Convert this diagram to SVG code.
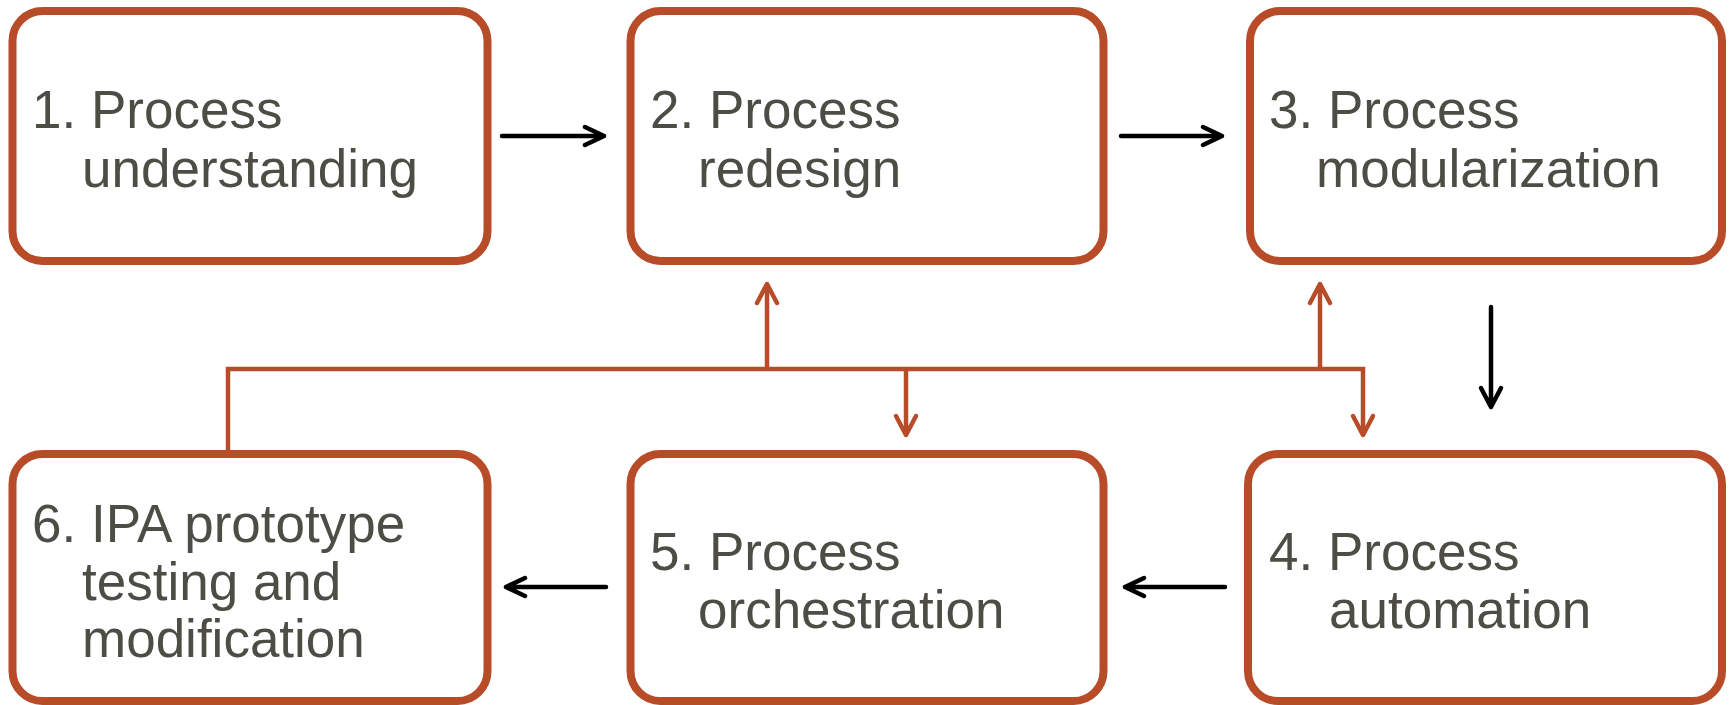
<svg xmlns="http://www.w3.org/2000/svg" width="1731" height="705" viewBox="0 0 1731 705">
<defs>
<style>
.box{fill:#fff;stroke:#B84C29;stroke-width:8}
.t{font-family:"Liberation Sans",Arial,sans-serif;font-size:53px;fill:#4E4D45}
.blk{stroke:#000;stroke-width:4.5;fill:none;stroke-linecap:round;stroke-linejoin:round}
.org{stroke:#B84C29;stroke-width:4.5;fill:none;stroke-linejoin:miter}
.orgh{stroke:#B84C29;stroke-width:4.5;fill:none;stroke-linecap:round;stroke-linejoin:round}
</style>
</defs>
<rect width="1731" height="705" fill="#fff"/>
<g id="node1"><rect class="box" x="12.5" y="11" width="475" height="250" rx="30"/>
<text class="t"><tspan x="32" y="128">1. Process</tspan><tspan x="82" y="187">understanding</tspan></text></g>
<g id="node2"><rect class="box" x="630.5" y="11" width="473" height="250" rx="30"/>
<text class="t"><tspan x="650" y="128">2. Process</tspan><tspan x="698" y="187">redesign</tspan></text></g>
<g id="node3"><rect class="box" x="1250" y="11" width="472" height="250" rx="30"/>
<text class="t"><tspan x="1269" y="128">3. Process</tspan><tspan x="1316" y="187">modularization</tspan></text></g>
<g id="node4"><rect class="box" x="1248" y="454" width="474" height="247" rx="30"/>
<text class="t"><tspan x="1269" y="570">4. Process</tspan><tspan x="1329" y="628">automation</tspan></text></g>
<g id="node5"><rect class="box" x="630.5" y="454" width="473" height="247" rx="30"/>
<text class="t"><tspan x="650" y="570">5. Process</tspan><tspan x="698" y="628">orchestration</tspan></text></g>
<g id="node6"><rect class="box" x="12.5" y="454" width="475" height="247" rx="30"/>
<text class="t"><tspan x="32" y="542">6. IPA prototype</tspan><tspan x="82" y="600">testing and</tspan><tspan x="82" y="657">modification</tspan></text></g>
<g id="connectors">
<path class="blk" d="M502 136H604M585 127L604 136L585 145"/>
<path class="blk" d="M1121 136H1222M1203 127L1222 136L1203 145"/>
<path class="blk" d="M1491 307V407M1481 388L1491 407L1501 388"/>
<path class="blk" d="M1225 587H1125M1144 578L1125 587L1144 596"/>
<path class="blk" d="M606 587H506M525 578L506 587L525 596"/>
<path class="org" d="M228 450V369H1363V435"/>
<path class="org" d="M767 369V284"/>
<path class="org" d="M1320 369V284"/>
<path class="org" d="M906 369V435"/>
<path class="orgh" d="M757 303L767 284L777 303"/>
<path class="orgh" d="M1310 303L1320 284L1330 303"/>
<path class="orgh" d="M896 416L906 435L916 416"/>
<path class="orgh" d="M1353 416L1363 435L1373 416"/>
</g>
</svg>
